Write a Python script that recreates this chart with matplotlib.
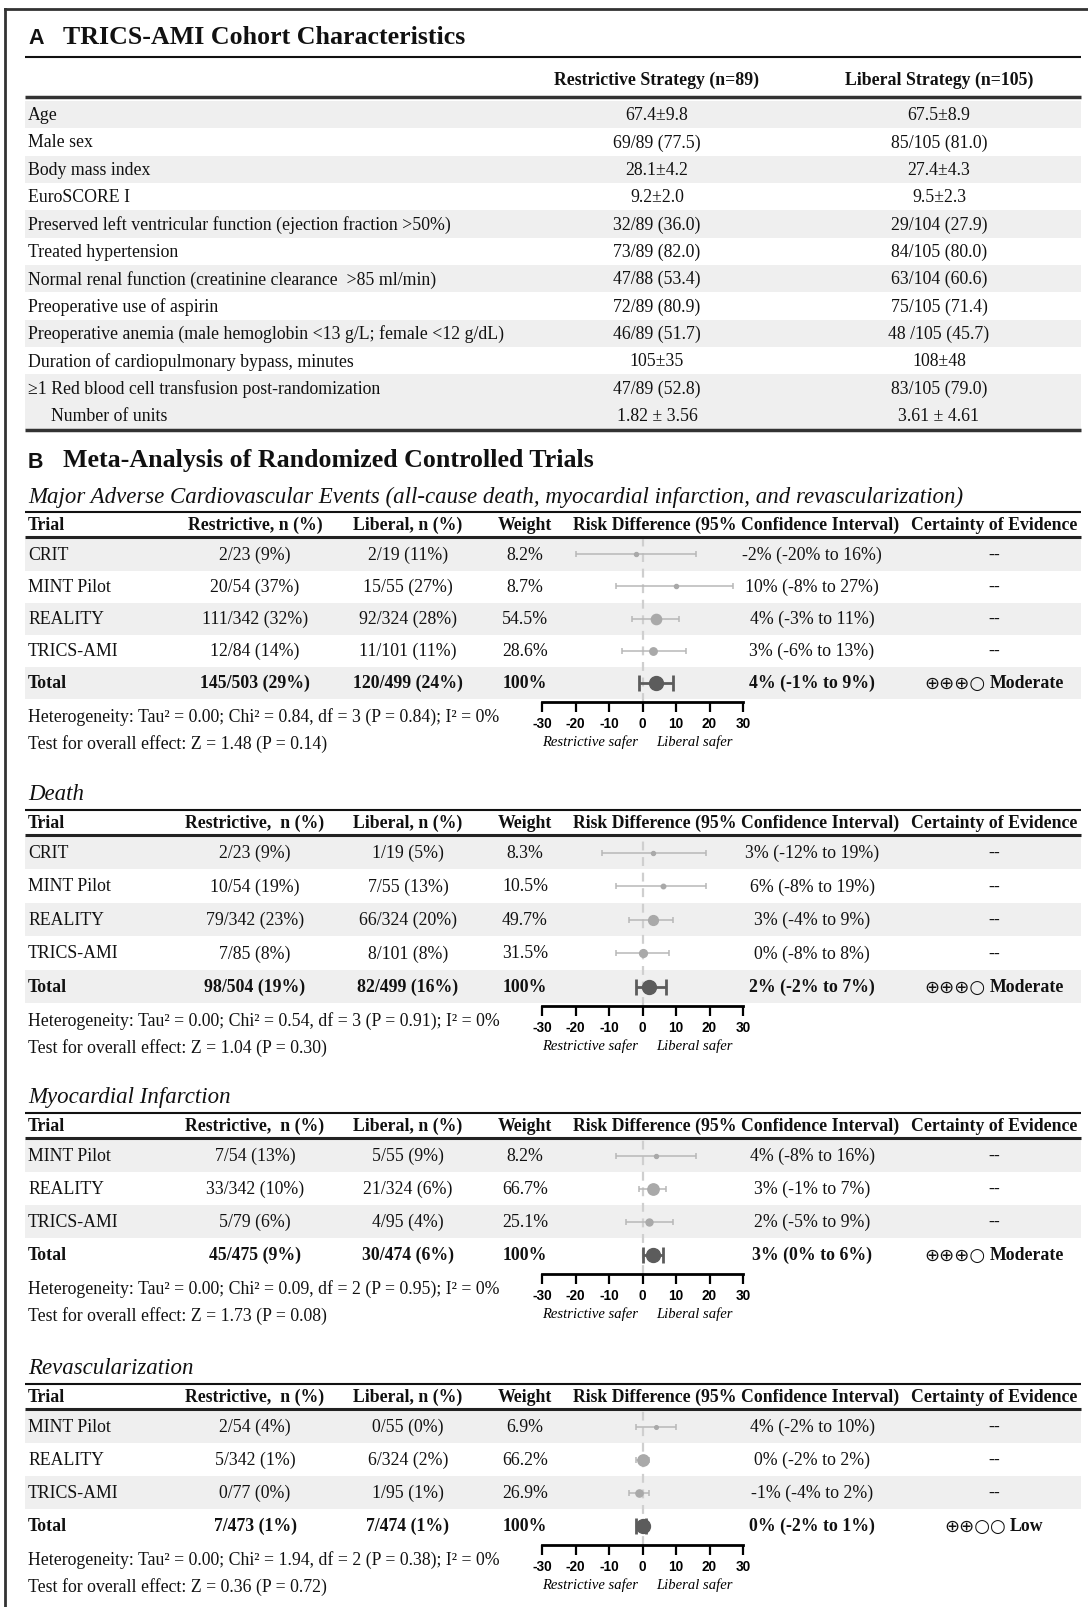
import matplotlib
matplotlib.use("Agg")
import matplotlib.pyplot as plt
from matplotlib.patches import Rectangle

plt.rcParams["font.family"] = ["Liberation Serif", "DejaVu Serif"]
plt.rcParams["axes.unicode_minus"] = False

W, H = 1088, 1608

# ---- panel A: cohort table ----
cohort_labels = [
    "Age",
    "Male sex",
    "Body mass index",
    "EuroSCORE I",
    "Preserved left ventricular function (ejection fraction >50%)",
    "Treated hypertension",
    "Normal renal function (creatinine clearance  >85 ml/min)",
    "Preoperative use of aspirin",
    "Preoperative anemia (male hemoglobin <13 g/L; female <12 g/dL)",
    "Duration of cardiopulmonary bypass, minutes",
    "\u22651 Red blood cell transfusion post-randomization",
    "Number of units",
]
cohort_restrictive = ["67.4\u00b19.8", "69/89 (77.5)", "28.1\u00b14.2", "9.2\u00b12.0",
                      "32/89 (36.0)", "73/89 (82.0)", "47/88 (53.4)", "72/89 (80.9)",
                      "46/89 (51.7)", "105\u00b135", "47/89 (52.8)", "1.82 \u00b1 3.56"]
cohort_liberal = ["67.5\u00b18.9", "85/105 (81.0)", "27.4\u00b14.3", "9.5\u00b12.3",
                  "29/104 (27.9)", "84/105 (80.0)", "63/104 (60.6)", "75/105 (71.4)",
                  "48 /105 (45.7)", "108\u00b148", "83/105 (79.0)", "3.61 \u00b1 4.61"]
cohort_indent = [False] * 11 + [True]
cohort_shaded = [True, False, True, False, True, False, True, False, True, False, True, True]

# ---- panel B: meta-analysis, one set of lists per outcome ----
# certainty entries: (GRADE symbols, rating word)
MOD = ("\u2295\u2295\u2295\u25cb", "Moderate")
LOW = ("\u2295\u2295\u25cb\u25cb", "Low")
NA = ("", "--")

mace_trials = ["CRIT", "MINT Pilot", "REALITY", "TRICS-AMI", "Total"]
mace_restrictive = ["2/23 (9%)", "20/54 (37%)", "111/342 (32%)", "12/84 (14%)", "145/503 (29%)"]
mace_liberal = ["2/19 (11%)", "15/55 (27%)", "92/324 (28%)", "11/101 (11%)", "120/499 (24%)"]
mace_weight = [8.2, 8.7, 54.5, 28.6, 100]
mace_rd = [-2, 10, 4, 3, 4]
mace_lo = [-20, -8, -3, -6, -1]
mace_hi = [16, 27, 11, 13, 9]
mace_certainty = [NA, NA, NA, NA, MOD]
mace_het = "Heterogeneity: Tau\u00b2 = 0.00; Chi\u00b2 = 0.84, df = 3 (P = 0.84); I\u00b2 = 0%"
mace_test = "Test for overall effect: Z = 1.48 (P = 0.14)"

death_trials = ["CRIT", "MINT Pilot", "REALITY", "TRICS-AMI", "Total"]
death_restrictive = ["2/23 (9%)", "10/54 (19%)", "79/342 (23%)", "7/85 (8%)", "98/504 (19%)"]
death_liberal = ["1/19 (5%)", "7/55 (13%)", "66/324 (20%)", "8/101 (8%)", "82/499 (16%)"]
death_weight = [8.3, 10.5, 49.7, 31.5, 100]
death_rd = [3, 6, 3, 0, 2]
death_lo = [-12, -8, -4, -8, -2]
death_hi = [19, 19, 9, 8, 7]
death_certainty = [NA, NA, NA, NA, MOD]
death_het = "Heterogeneity: Tau\u00b2 = 0.00; Chi\u00b2 = 0.54, df = 3 (P = 0.91); I\u00b2 = 0%"
death_test = "Test for overall effect: Z = 1.04 (P = 0.30)"

mi_trials = ["MINT Pilot", "REALITY", "TRICS-AMI", "Total"]
mi_restrictive = ["7/54 (13%)", "33/342 (10%)", "5/79 (6%)", "45/475 (9%)"]
mi_liberal = ["5/55 (9%)", "21/324 (6%)", "4/95 (4%)", "30/474 (6%)"]
mi_weight = [8.2, 66.7, 25.1, 100]
mi_rd = [4, 3, 2, 3]
mi_lo = [-8, -1, -5, 0]
mi_hi = [16, 7, 9, 6]
mi_certainty = [NA, NA, NA, MOD]
mi_het = "Heterogeneity: Tau\u00b2 = 0.00; Chi\u00b2 = 0.09, df = 2 (P = 0.95); I\u00b2 = 0%"
mi_test = "Test for overall effect: Z = 1.73 (P = 0.08)"

revasc_trials = ["MINT Pilot", "REALITY", "TRICS-AMI", "Total"]
revasc_restrictive = ["2/54 (4%)", "5/342 (1%)", "0/77 (0%)", "7/473 (1%)"]
revasc_liberal = ["0/55 (0%)", "6/324 (2%)", "1/95 (1%)", "7/474 (1%)"]
revasc_weight = [6.9, 66.2, 26.9, 100]
revasc_rd = [4, 0, -1, 0]
revasc_lo = [-2, -2, -4, -2]
revasc_hi = [10, 2, 2, 1]
revasc_certainty = [NA, NA, NA, LOW]
revasc_het = "Heterogeneity: Tau\u00b2 = 0.00; Chi\u00b2 = 1.94, df = 2 (P = 0.38); I\u00b2 = 0%"
revasc_test = "Test for overall effect: Z = 0.36 (P = 0.72)"

rd_ticks = [-30, -20, -10, 0, 10, 20, 30]
rd_tick_labels = ["-30", "-20", "-10", "0", "10", "20", "30"]

# ---- layout (pixels) ----
X_LEFT, X_RIGHT = 25, 1081
X_TEXT = 28
BAND = "#efefef"
FS = 12.8
SERIF = ["Liberation Serif", "DejaVu Serif"]
SYMB = ["DejaVu Sans"]
SANS = ["Liberation Sans", "DejaVu Sans"]
NARROW = ["Liberation Sans Narrow", "Liberation Sans", "DejaVu Sans"]

COL_RESTR, COL_LIB, COL_WEIGHT = 255, 408, 525
COL_RD_HEAD, COL_CI, COL_CERT = 736, 812, 994
RD_X0, RD_X1 = 542, 743  # pixel span of -30..30

fig = plt.figure(figsize=(W / 100, H / 100), dpi=100)
ax = fig.add_axes([0, 0, 1, 1])
ax.set_xlim(0, W)
ax.set_ylim(H, 0)
ax.axis("off")
renderer = fig.canvas.get_renderer()


def txt(x, y, s, ha="left", size=FS, weight="normal", style="normal", family=SERIF):
    return ax.text(x, y, s, ha=ha, va="center", fontsize=size, fontweight=weight,
                   fontstyle=style, family=family, color="#111111")


def hline(y, lw=1.5, color="#111111"):
    ax.plot([X_LEFT, X_RIGHT], [y, y], color=color, lw=lw, solid_capstyle="butt")


def band(yc, h):
    ax.add_patch(Rectangle((X_LEFT, yc - h / 2), X_RIGHT - X_LEFT, h,
                           facecolor=BAND, edgecolor="none", zorder=0))


def certainty(x, y, entry, weight):
    symbols, word = entry
    if not symbols:
        txt(x, y, word, ha="center", weight=weight)
        return
    s = txt(0, y + 0.5, symbols, size=13, family=SYMB)
    w = txt(0, y, word, weight=weight)
    ws = s.get_window_extent(renderer).width
    ww = w.get_window_extent(renderer).width
    gap = 4
    left = x - (ws + gap + ww) / 2
    s.set_x(left)
    w.set_x(left + ws + gap)


# outer frame (top and left edges)
ax.plot([5, W], [10, 10], color="#333333", lw=2)
ax.plot([5, 5], [10, H], color="#333333", lw=2)

# ---- panel A ----
txt(X_TEXT, 39, "A", size=15.5, weight="bold", family=SANS)
txt(63, 38, "TRICS-AMI Cohort Characteristics", size=18.6, weight="bold")
hline(58, lw=1.5)
txt(657, 80, "Restrictive Strategy (n=89)", ha="center", weight="bold")
txt(939, 80, "Liberal Strategy (n=105)", ha="center", weight="bold")
hline(98, lw=2.5, color="#333333")

a_y0, a_step = 115.5, 27.35
for i, lab in enumerate(cohort_labels):
    yc = a_y0 + i * a_step
    if cohort_shaded[i]:
        band(yc, a_step)
    txt(51 if cohort_indent[i] else X_TEXT, yc, lab)
    txt(657, yc, cohort_restrictive[i], ha="center")
    txt(939, yc, cohort_liberal[i], ha="center")
hline(a_y0 + (len(cohort_labels) - 0.5) * a_step + 1, lw=2.5, color="#333333")

# ---- panel B ----
txt(X_TEXT, 462, "B", size=15.5, weight="bold", family=SANS)
txt(63, 461, "Meta-Analysis of Randomized Controlled Trials", size=18.6, weight="bold")


def fmt_weight(w):
    return f"{w}%"


def draw_block(top, step, title, restr_head, trials, restr, lib, weight, rd, lo, hi, cert, het, test):
    txt(X_TEXT, top, title, size=16.45, style="italic")
    hline(top + 16, lw=1.5)
    yh = top + 28.5
    txt(X_TEXT, yh, "Trial", weight="bold")
    txt(COL_RESTR, yh, restr_head, ha="center", weight="bold")
    txt(COL_LIB, yh, "Liberal, n (%)", ha="center", weight="bold")
    txt(COL_WEIGHT, yh, "Weight", ha="center", weight="bold")
    txt(COL_RD_HEAD, yh, "Risk Difference (95% Confidence Interval)", ha="center", weight="bold")
    txt(COL_CERT, yh, "Certainty of Evidence", ha="center", weight="bold")
    hline(top + 41, lw=2.2, color="#222222")

    y0 = top + 58.5
    n = len(trials)
    rows = [y0 + i * step for i in range(n)]
    for i, yc in enumerate(rows):
        if i % 2 == 0:
            band(yc, step)
        bold = "bold" if i == n - 1 else "normal"
        txt(X_TEXT, yc, trials[i], weight=bold)
        txt(COL_RESTR, yc, restr[i], ha="center", weight=bold)
        txt(COL_LIB, yc, lib[i], ha="center", weight=bold)
        txt(COL_WEIGHT, yc, fmt_weight(weight[i]), ha="center", weight=bold)
        txt(COL_CI, yc, f"{rd[i]}% ({lo[i]}% to {hi[i]}%)", ha="center", weight=bold)
        certainty(COL_CERT, yc, cert[i], bold)

    y_last = rows[-1]
    txt(X_TEXT, y_last + 33.5, het)
    txt(X_TEXT, y_last + 61, test)

    # forest plot on its own axes, y measured in page pixels
    band_top = y0 - step / 2
    axis_y = y_last + 19.5
    fax = fig.add_axes([RD_X0 / W, 1 - axis_y / H, (RD_X1 - RD_X0) / W, (axis_y - band_top) / H])
    fax.patch.set_alpha(0)
    fax.set_xlim(-30, 30)
    fax.set_ylim(axis_y, band_top)
    for s in ("left", "right", "top"):
        fax.spines[s].set_visible(False)
    fax.spines["bottom"].set_linewidth(2)
    fax.set_yticks([])
    fax.set_xticks(rd_ticks)
    fax.set_xticklabels(rd_tick_labels, family=NARROW, fontweight="bold", fontsize=9.8)
    fax.tick_params(axis="x", direction="out", length=7.5, width=1.6, pad=2.5)
    fax.axvline(0, color="#cfcfcf", lw=1.6, ls=(0, (4, 3)), zorder=0)

    for i, yc in enumerate(rows):
        total = i == n - 1
        c = "#5c5c5c" if total else "#a9a9a9"
        fax.errorbar(rd[i], yc, xerr=[[rd[i] - lo[i]], [hi[i] - rd[i]]], fmt="o",
                     ms=weight[i] ** 0.5, color=c, mec=c,
                     ecolor=c if total else "#b8b8b8",
                     elinewidth=2 if total else 1.1,
                     capsize=5.5 if total else 2.5,
                     capthick=2 if total else 1.1, zorder=3)

    fax.text(-15.5, axis_y + 39, "Restrictive safer", ha="center", va="center",
             fontsize=10.5, fontstyle="italic", family=SERIF)
    fax.text(15.5, axis_y + 39, "Liberal safer", ha="center", va="center",
             fontsize=10.5, fontstyle="italic", family=SERIF)


draw_block(497, 32,
           "Major Adverse Cardiovascular Events (all-cause death, myocardial infarction, and revascularization)",
           "Restrictive, n (%)", mace_trials, mace_restrictive, mace_liberal, mace_weight,
           mace_rd, mace_lo, mace_hi, mace_certainty, mace_het, mace_test)
draw_block(795, 33.5, "Death", "Restrictive,  n (%)", death_trials, death_restrictive,
           death_liberal, death_weight, death_rd, death_lo, death_hi, death_certainty,
           death_het, death_test)
draw_block(1098, 33, "Myocardial Infarction", "Restrictive,  n (%)", mi_trials, mi_restrictive,
           mi_liberal, mi_weight, mi_rd, mi_lo, mi_hi, mi_certainty, mi_het, mi_test)
draw_block(1369, 33, "Revascularization", "Restrictive,  n (%)", revasc_trials,
           revasc_restrictive, revasc_liberal, revasc_weight, revasc_rd, revasc_lo,
           revasc_hi, revasc_certainty, revasc_het, revasc_test)

fig.savefig("out.png", dpi=100)
